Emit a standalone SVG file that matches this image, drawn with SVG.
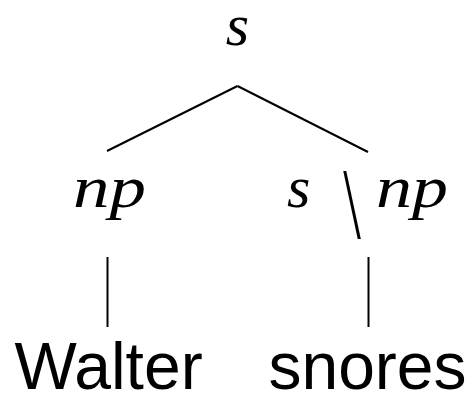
<svg xmlns="http://www.w3.org/2000/svg" width="471" height="395" viewBox="0 0 471 395">
<style>
.math{font-family:"Liberation Serif","Times New Roman",serif;font-style:italic;font-size:60px;fill:#000}
.word{font-family:"Liberation Sans",Arial,sans-serif;font-size:66px;fill:#000;text-anchor:middle}
.edge{stroke:#000;stroke-width:2;fill:none;stroke-linecap:butt}
</style>
<rect width="471" height="395" fill="#fff"/>
<g id="connectors">
<line class="edge" x1="237.5" y1="86" x2="107" y2="151"/>
<line class="edge" x1="237.5" y1="86" x2="368" y2="152"/>
<line class="edge" x1="107.5" y1="257" x2="107.5" y2="327"/>
<line class="edge" x1="368.5" y1="257" x2="368.5" y2="327"/>
</g>
<g id="node-s">
<text class="math" x="237.5" y="45" text-anchor="middle">s</text>
</g>
<g id="node-np">
<text class="math" x="73" y="207" textLength="73" lengthAdjust="spacingAndGlyphs">np</text>
</g>
<g id="node-snp">
<text class="math" x="287" y="207">s</text>
<text x="0" y="0" transform="translate(352,238) scale(0.62,1)" text-anchor="middle" style="font-family:'Liberation Serif','Times New Roman',serif;font-size:102px;fill:#000">\</text>
<text class="math" x="376" y="207" textLength="72" lengthAdjust="spacingAndGlyphs">np</text>
</g>
<g id="leaf-walter">
<text class="word" x="108.5" y="389">Walter</text>
</g>
<g id="leaf-snores">
<text class="word" x="367.5" y="389">snores</text>
</g>
</svg>
